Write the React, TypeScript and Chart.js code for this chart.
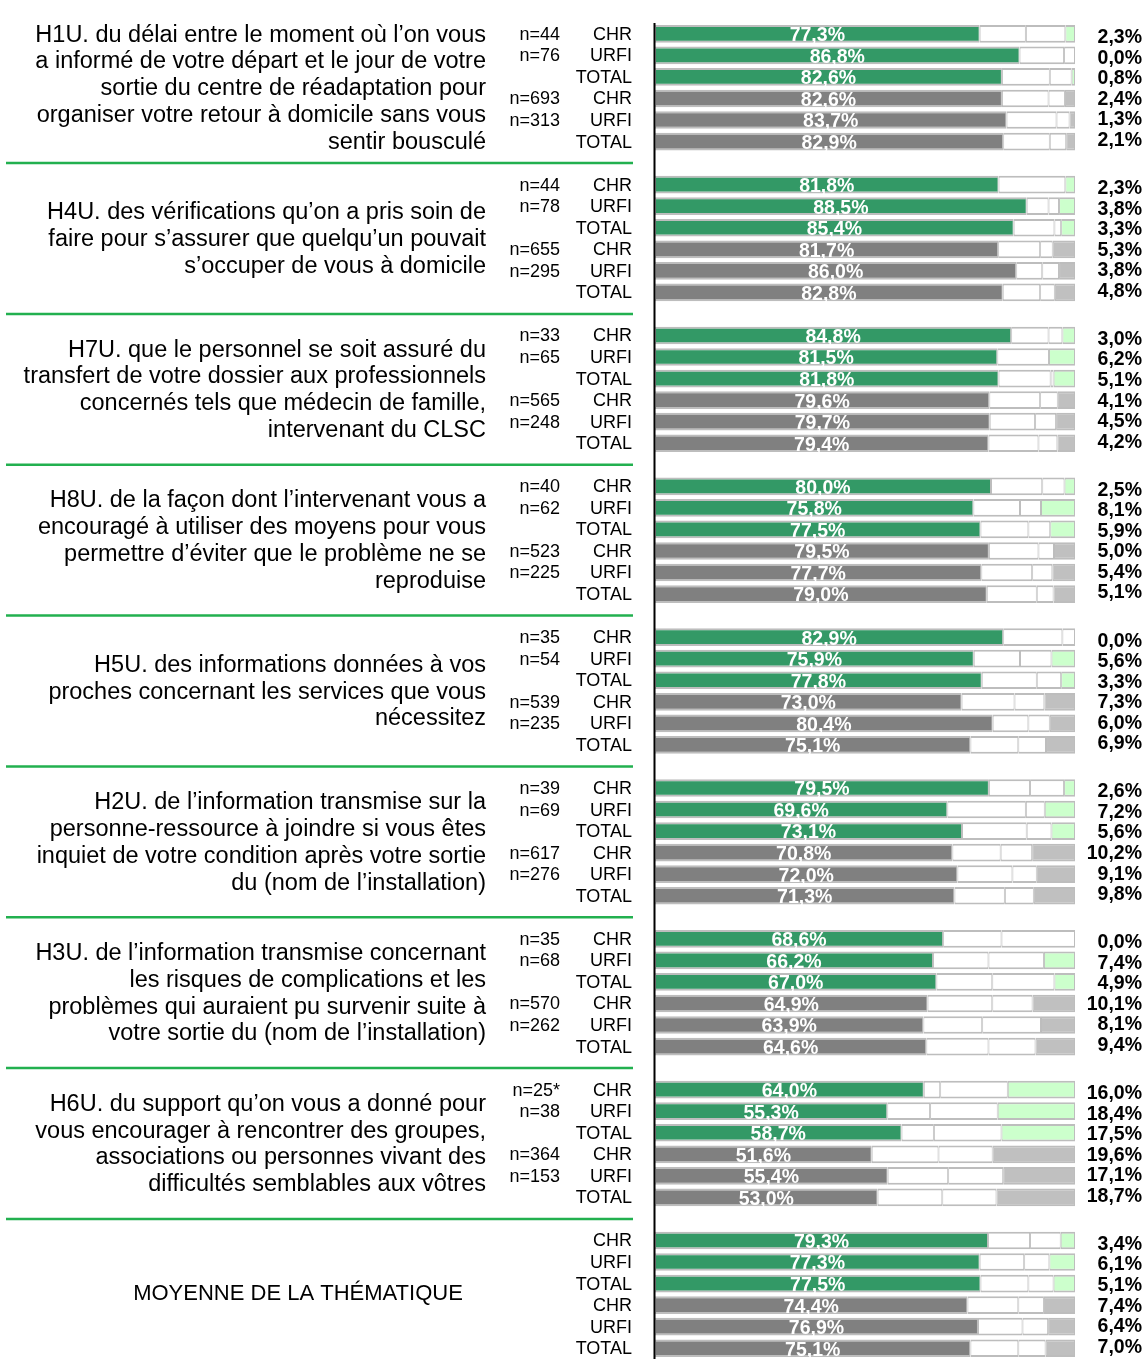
import React, { useEffect, useRef } from 'react';
import { Chart, registerables } from 'chart.js';

Chart.register(...registerables);

// Question wording, one entry per line of text
const QUESTIONS: string[][] = [
  [
    'H1U. du délai entre le moment où l’on vous',
    'a informé de votre départ et le jour de votre',
    'sortie du centre de réadaptation pour',
    'organiser votre retour à domicile sans vous',
    'sentir bousculé',
  ],
  [
    'H4U. des vérifications qu’on a pris soin de',
    'faire pour s’assurer que quelqu’un pouvait',
    's’occuper de vous à domicile',
  ],
  [
    'H7U. que le personnel se soit assuré du',
    'transfert de votre dossier aux professionnels',
    'concernés tels que médecin de famille,',
    'intervenant du CLSC',
  ],
  [
    'H8U. de la façon dont l’intervenant vous a',
    'encouragé à utiliser des moyens pour vous',
    'permettre d’éviter que le problème ne se',
    'reproduise',
  ],
  [
    'H5U. des informations données à vos',
    'proches concernant les services que vous',
    'nécessitez',
  ],
  [
    'H2U. de l’information transmise sur la',
    'personne-ressource à joindre si vous êtes',
    'inquiet de votre condition après votre sortie',
    'du (nom de l’installation)',
  ],
  [
    'H3U. de l’information transmise concernant',
    'les risques de complications et les',
    'problèmes qui auraient pu survenir suite à',
    'votre sortie du (nom de l’installation)',
  ],
  [
    'H6U. du support qu’on vous a donné pour',
    'vous encourager à rencontrer des groupes,',
    'associations ou personnes vivant des',
    'difficultés semblables aux vôtres',
  ],
];

const AVERAGE_TITLE = 'MOYENNE DE LA THÉMATIQUE';

const ROW_LABELS = ['CHR', 'URFI', 'TOTAL', 'CHR', 'URFI', 'TOTAL'];

// Sample sizes per row (TOTAL rows carry none)
const SAMPLE_SIZES: (string | null)[][] = [
  ['44', '76', null, '693', '313', null],
  ['44', '78', null, '655', '295', null],
  ['33', '65', null, '565', '248', null],
  ['40', '62', null, '523', '225', null],
  ['35', '54', null, '539', '235', null],
  ['39', '69', null, '617', '276', null],
  ['35', '68', null, '570', '262', null],
  ['25*', '38', null, '364', '153', null],
  [null, null, null, null, null, null],
];

// Satisfied share (dark segment, labelled inside the bar)
const SATISFAITS: number[][] = [
  [77.3, 86.8, 82.6, 82.6, 83.7, 82.9],
  [81.8, 88.5, 85.4, 81.7, 86.0, 82.8],
  [84.8, 81.5, 81.8, 79.6, 79.7, 79.4],
  [80.0, 75.8, 77.5, 79.5, 77.7, 79.0],
  [82.9, 75.9, 77.8, 73.0, 80.4, 75.1],
  [79.5, 69.6, 73.1, 70.8, 72.0, 71.3],
  [68.6, 66.2, 67.0, 64.9, 63.9, 64.6],
  [64.0, 55.3, 58.7, 51.6, 55.4, 53.0],
  [79.3, 77.3, 77.5, 74.4, 76.9, 75.1],
];

// First white segment
const PLUTOT_SATISFAITS: number[][] = [
  [11.0, 10.6, 11.4, 11.1, 11.9, 11.1],
  [15.9, 5.2, 9.7, 10.0, 6.2, 8.9],
  [8.9, 12.3, 12.4, 12.1, 10.8, 11.9],
  [12.2, 11.1, 11.4, 11.8, 12.1, 11.9],
  [14.1, 11.0, 13.1, 12.6, 8.5, 11.4],
  [9.8, 18.7, 15.4, 11.5, 13.1, 12.0],
  [13.9, 13.2, 13.3, 15.4, 14.0, 14.8],
  [3.9, 10.2, 7.7, 15.9, 14.4, 15.4],
  [10.0, 10.6, 11.4, 12.1, 10.6, 11.4],
];

// Second white segment
const PEU_SATISFAITS: number[][] = [
  [9.4, 2.6, 5.2, 3.9, 3.1, 3.9],
  [0.0, 2.5, 1.6, 3.0, 4.0, 3.5],
  [3.3, 0.0, 0.7, 4.2, 5.0, 4.5],
  [5.3, 5.0, 5.2, 3.7, 4.8, 4.0],
  [3.0, 7.5, 5.8, 7.1, 5.1, 6.6],
  [8.1, 4.5, 5.9, 7.5, 5.8, 6.9],
  [17.5, 13.2, 14.8, 9.6, 14.0, 11.2],
  [16.1, 16.1, 16.1, 12.9, 13.1, 12.9],
  [7.3, 6.0, 6.0, 6.1, 6.1, 6.5],
];

// Light end segment, value printed to the right of the bar
const INSATISFAITS: number[][] = [
  [2.3, 0.0, 0.8, 2.4, 1.3, 2.1],
  [2.3, 3.8, 3.3, 5.3, 3.8, 4.8],
  [3.0, 6.2, 5.1, 4.1, 4.5, 4.2],
  [2.5, 8.1, 5.9, 5.0, 5.4, 5.1],
  [0.0, 5.6, 3.3, 7.3, 6.0, 6.9],
  [2.6, 7.2, 5.6, 10.2, 9.1, 9.8],
  [0.0, 7.4, 4.9, 10.1, 8.1, 9.4],
  [16.0, 18.4, 17.5, 19.6, 17.1, 18.7],
  [3.4, 6.1, 5.1, 7.4, 6.4, 7.0],
];

const GREEN = '#339966';
const GREY = '#808080';
const LIGHT_GREEN = '#ccffcc';
const LIGHT_GREY = '#c0c0c0';
const WHITE = '#ffffff';
const BORDER = '#bdbdbd';
const RULE_GREEN = '#22b04f';

const W = 1144;
const H = 1359;
const ROWS = 6;
const SLOTS_PER_GROUP = ROWS + 1; // one empty slot before each group

const groupCount = SATISFAITS.length;

// Category slots: an empty spacer then six rows per group
const slotLabels: string[] = [];
const slotGroup: number[] = [];
const slotRow: number[] = [];
for (let g = 0; g < groupCount; g++) {
  slotLabels.push('');
  slotGroup.push(g);
  slotRow.push(-1);
  for (let r = 0; r < ROWS; r++) {
    slotLabels.push(ROW_LABELS[r]);
    slotGroup.push(g);
    slotRow.push(r);
  }
}

const spread = (src: number[][]) =>
  slotLabels.map((_, i) => (slotRow[i] < 0 ? null : src[slotGroup[i]][slotRow[i]]));

const fmt = (v: number) => v.toFixed(1).replace('.', ',') + '%';

const isGreenRow = (i: number) => slotRow[i] >= 0 && slotRow[i] < 3;

const borderFor = (ctx: any) => {
  const v = ctx.raw;
  if (v == null || v <= 0) return 0;
  return { top: 2, bottom: 2, left: 1, right: 1 };
};

const ARIAL = '"Liberation Sans", Arial, sans-serif';
const BOLD_LABEL = 'bold 19.5px "Liberation Sans", Arial, sans-serif';

const panelPlugin = {
  id: 'panelText',
  afterDraw(chart: any) {
    const { ctx, chartArea } = chart;
    const y = chart.scales.y;
    const pitch = y.getPixelForValue(1) - y.getPixelForValue(0);
    ctx.save();

    // Vertical axis line
    ctx.strokeStyle = '#000';
    ctx.lineWidth = 2;
    ctx.beginPath();
    ctx.moveTo(chartArea.left - 0.5, y.getPixelForValue(1) - pitch / 2);
    ctx.lineTo(chartArea.left - 0.5, chartArea.bottom);
    ctx.stroke();

    // Green separators between questions
    ctx.strokeStyle = RULE_GREEN;
    ctx.lineWidth = 2.5;
    for (let g = 1; g < groupCount; g++) {
      const yy = y.getPixelForValue(g * SLOTS_PER_GROUP);
      ctx.beginPath();
      ctx.moveTo(6, yy);
      ctx.lineTo(633, yy);
      ctx.stroke();
    }

    // Question wording
    ctx.fillStyle = '#000';
    ctx.textBaseline = 'middle';
    for (let g = 0; g < groupCount; g++) {
      const first = y.getPixelForValue(g * SLOTS_PER_GROUP + 1);
      const last = y.getPixelForValue(g * SLOTS_PER_GROUP + ROWS);
      const mid = (first + last) / 2;
      if (g < QUESTIONS.length) {
        const lines = QUESTIONS[g];
        ctx.font = '23.5px ' + ARIAL;
        ctx.textAlign = 'right';
        const lh = 26.8;
        lines.forEach((line, i) => {
          ctx.fillText(line, 486, mid + 1 + (i - (lines.length - 1) / 2) * lh);
        });
      } else {
        ctx.font = '22px ' + ARIAL;
        ctx.textAlign = 'center';
        ctx.fillText(AVERAGE_TITLE, 298, mid);
      }
    }

    // Row labels and sample sizes
    ctx.font = '18px ' + ARIAL;
    ctx.textAlign = 'right';
    slotLabels.forEach((lab, i) => {
      if (slotRow[i] < 0) return;
      const yy = y.getPixelForValue(i) + 1;
      ctx.fillText(lab, 632, yy);
      const n = SAMPLE_SIZES[slotGroup[i]][slotRow[i]];
      if (n) ctx.fillText('n=' + n, 560, yy);
    });

    // Values inside the dark segments
    const meta = chart.getDatasetMeta(0);
    ctx.font = BOLD_LABEL;
    ctx.fillStyle = '#fff';
    ctx.textAlign = 'center';
    meta.data.forEach((el: any, i: number) => {
      if (slotRow[i] < 0) return;
      const p = el.getProps(['x', 'y', 'base'], true);
      const v = SATISFAITS[slotGroup[i]][slotRow[i]];
      ctx.fillText(fmt(v), (p.x + p.base) / 2, p.y + 2);
    });

    // Values to the right of each bar
    ctx.fillStyle = '#000';
    ctx.textAlign = 'right';
    meta.data.forEach((el: any, i: number) => {
      const r = slotRow[i];
      if (r < 0) return;
      const p = el.getProps(['y'], true);
      const v = INSATISFAITS[slotGroup[i]][r];
      ctx.fillText(fmt(v), 1142, p.y + 4 - r);
    });

    ctx.restore();
  },
};

export default function App() {
  const canvasRef = useRef<HTMLCanvasElement | null>(null);

  useEffect(() => {
    const canvas = canvasRef.current;
    if (!canvas) return;

    const mk = (label: string, src: number[][], dark: string, light: string | null) => ({
      label,
      data: spread(src),
      backgroundColor: (c: any) => (light ? (isGreenRow(c.dataIndex) ? dark : light) : dark),
      borderColor: BORDER,
      borderWidth: borderFor,
      borderSkipped: false,
    });

    const chart = new Chart(canvas, {
      type: 'bar',
      data: {
        labels: slotLabels,
        datasets: [
          mk('Satisfaits', SATISFAITS, GREEN, GREY),
          mk('Plutôt', PLUTOT_SATISFAITS, WHITE, null),
          mk('Peu', PEU_SATISFAITS, WHITE, null),
          mk('Insatisfaits', INSATISFAITS, LIGHT_GREEN, LIGHT_GREY),
        ] as any,
      },
      options: {
        indexAxis: 'y',
        responsive: false,
        animation: false,
        devicePixelRatio: 1,
        layout: { padding: { left: 655, right: W - 1075, top: 1.5, bottom: 0 } },
        datasets: { bar: { barPercentage: 0.82, categoryPercentage: 1 } },
        scales: {
          x: { stacked: true, min: 0, max: 100, display: false },
          y: { stacked: true, display: false },
        },
        plugins: {
          legend: { display: false },
          tooltip: { enabled: false },
        },
      } as any,
      plugins: [panelPlugin],
    });

    return () => chart.destroy();
  }, []);

  return (
    <div style={{ position: 'absolute', left: 0, top: 0, width: W, height: H, background: '#fff' }}>
      <canvas ref={canvasRef} width={W} height={H} style={{ display: 'block', width: W, height: H }} />
    </div>
  );
}
